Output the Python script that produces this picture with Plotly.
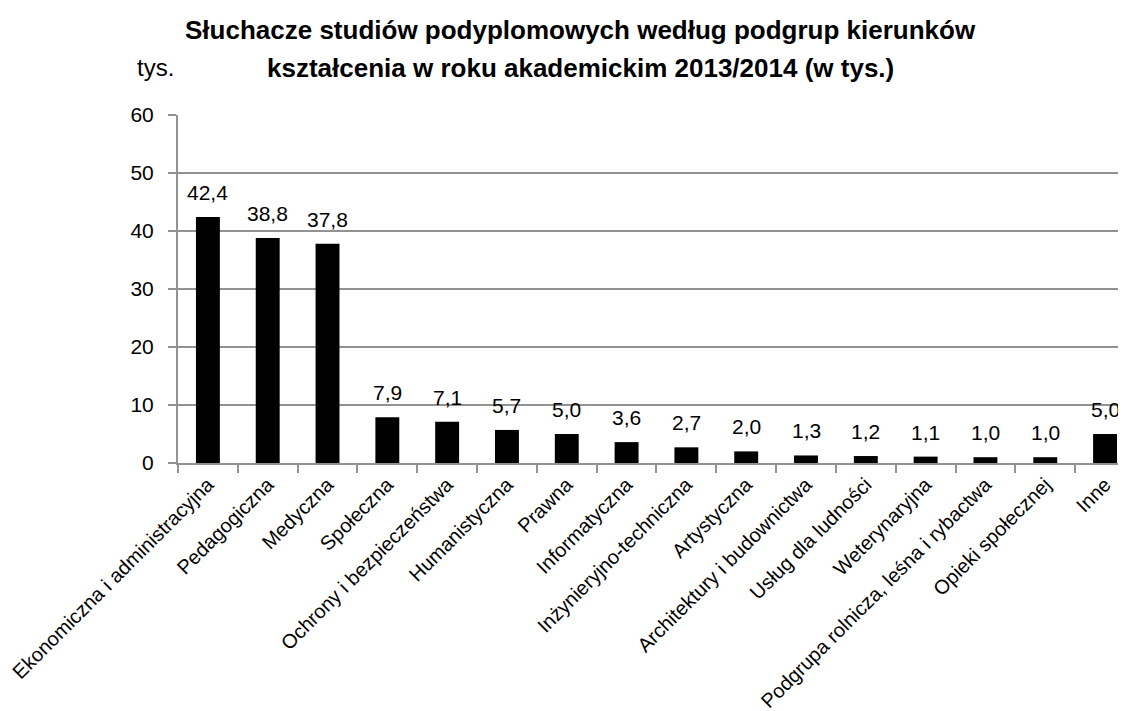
import plotly.graph_objects as go

categories = [
    "Ekonomiczna i administracyjna",
    "Pedagogiczna",
    "Medyczna",
    "Społeczna",
    "Ochrony i bezpieczeństwa",
    "Humanistyczna",
    "Prawna",
    "Informatyczna",
    "Inżynieryjno-techniczna",
    "Artystyczna",
    "Architektury i budownictwa",
    "Usług dla ludności",
    "Weterynaryjna",
    "Podgrupa rolnicza, leśna i rybactwa",
    "Opieki społecznej",
    "Inne",
]
values = [42.4, 38.8, 37.8, 7.9, 7.1, 5.7, 5.0, 3.6, 2.7, 2.0, 1.3, 1.2, 1.1, 1.0, 1.0, 5.0]
y_ticks = [0, 10, 20, 30, 40, 50, 60]

title_lines = [
    "Słuchacze studiów podyplomowych według podgrup kierunków",
    "kształcenia w roku akademickim 2013/2014 (w tys.)",
]
unit_label = "tys."

font = "Liberation Sans, Arial, sans-serif"
grid = "#929292"

fig = go.Figure()
fig.add_trace(
    go.Bar(
        x=categories,
        y=values,
        width=0.4,
        marker=dict(color="black", line=dict(width=0)),
        hoverinfo="x+y",
    )
)

# value labels above bars
for cat, val in zip(categories, values):
    fig.add_annotation(
        x=cat,
        y=val,
        text=f"{val:.1f}".replace(".", ","),
        showarrow=False,
        yanchor="bottom",
        yshift=11,
        font=dict(family=font, size=21, color="black"),
    )

# title, two lines
fig.add_annotation(
    text=f"<b>{title_lines[0]}</b>", xref="paper", yref="paper",
    x=0.425, y=1.244, xanchor="center", yanchor="middle", showarrow=False,
    font=dict(family=font, size=26, color="black"),
)
fig.add_annotation(
    text=f"<b>{title_lines[1]}</b>", xref="paper", yref="paper",
    x=0.425, y=1.136, xanchor="center", yanchor="middle", showarrow=False,
    font=dict(family=font, size=26, color="black"),
)
fig.add_annotation(
    text=unit_label, xref="paper", yref="paper",
    x=-0.0453, y=1.136, xanchor="left", yanchor="middle", showarrow=False,
    font=dict(family=font, size=24, color="black"),
)

# the page body has an 8px margin, so the figure is shrunk by that much
fig.update_layout(
    width=1118,
    height=703,
    margin=dict(l=170, r=0, t=107, b=248),
    plot_bgcolor="white",
    paper_bgcolor="white",
    showlegend=False,
    font=dict(family=font, color="black"),
    xaxis=dict(
        range=[-0.5, 15.35],
        automargin=False,
        tickangle=-45,
        tickfont=dict(size=20),
        ticks="outside",
        tickson="boundaries",
        ticklen=8,
        tickcolor=grid,
        tickwidth=2,
        showline=True,
        linecolor=grid,
        linewidth=2,
        showgrid=False,
    ),
    yaxis=dict(
        range=[0, 60],
        automargin=False,
        tickvals=y_ticks,
        tickfont=dict(size=21),
        ticks="outside",
        ticklen=8,
        ticklabelstandoff=10,
        tickcolor=grid,
        tickwidth=2,
        showline=True,
        linecolor=grid,
        linewidth=2,
        showgrid=True,
        gridcolor=grid,
        gridwidth=2,
        zeroline=False,
    ),
)

fig.write_html("out.html")
